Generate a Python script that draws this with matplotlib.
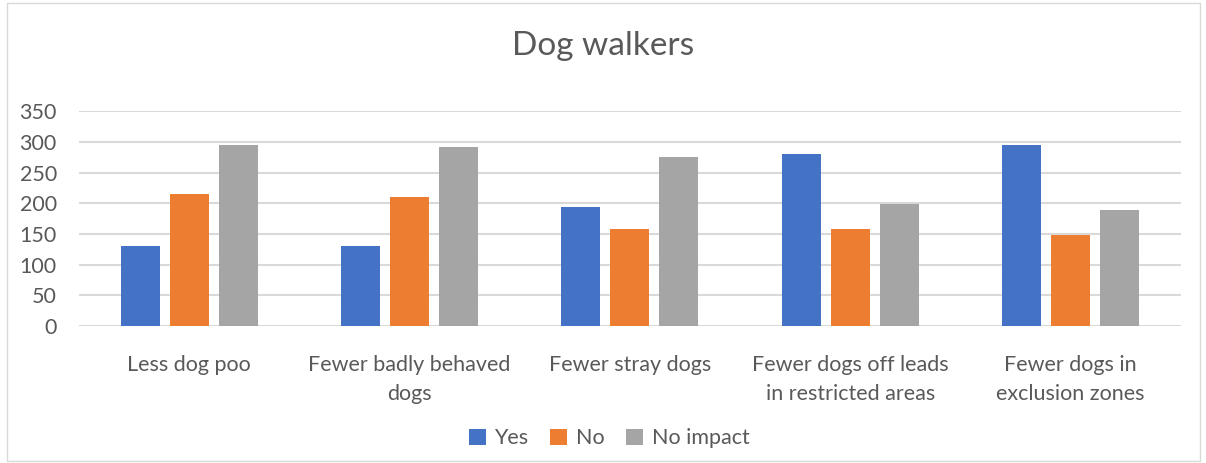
import matplotlib.pyplot as plt
import numpy as np
from matplotlib.patches import Rectangle

# ===== Data =====
categories = ["Less dog poo", "Fewer badly behaved\ndogs", "Fewer stray dogs",
              "Fewer dogs off leads\nin restricted areas", "Fewer dogs in\nexclusion zones"]
series_names = ["Yes", "No", "No impact"]
yes_vals = [130, 130, 194, 280, 295]
no_vals = [215, 210, 158, 158, 148]
no_impact_vals = [295, 291, 275, 198, 189]
colors = ["#4472C4", "#ED7D31", "#A5A5A5"]

plt.rcParams['font.family'] = ['Lato', 'DejaVu Sans']
txt = "#595959"

fig = plt.figure(figsize=(12.06, 4.63), dpi=100)
ax = fig.add_axes([0.0655, 0.296, 0.9135, 0.464])

# khung viền nhạt
fig.patches.append(Rectangle((0.006, 0.004), 0.989, 0.99, transform=fig.transFigure,
                             fill=False, edgecolor="#D9D9D9", linewidth=1))

x = np.arange(len(categories))
w = 0.177
step = 0.222
for i, (vals, name) in enumerate(zip([yes_vals, no_vals, no_impact_vals], series_names)):
    ax.bar(x + (i - 1) * step, vals, w, color=colors[i], label=name, zorder=3)

ax.set_xlim(-0.5, len(categories) - 0.5)
ax.set_ylim(0, 350)
ax.set_yticks(range(0, 351, 50))
ax.yaxis.grid(True, color="#D9D9D9", linewidth=1.5, zorder=0)
ax.set_axisbelow(True)
for s in ["top", "right", "left", "bottom"]:
    ax.spines[s].set_visible(False)
ax.tick_params(axis="both", length=0, labelsize=15.5, labelcolor=txt)
ax.tick_params(axis="x", pad=21)
ax.tick_params(axis="y", pad=16)
ax.set_xticks(x)
ax.set_xticklabels(categories, linespacing=1.55)

fig.text(0.5, 0.9, "Dog walkers", ha="center", va="center", fontsize=24, color=txt)

ax.legend(loc="center", bbox_to_anchor=(0.505, 0.053), bbox_transform=fig.transFigure,
          ncol=3, frameon=False, fontsize=15.5, labelcolor=txt,
          handlelength=0.8, handleheight=0.8, handletextpad=0.4, columnspacing=1.0)

fig.savefig("out.png", dpi=100)
